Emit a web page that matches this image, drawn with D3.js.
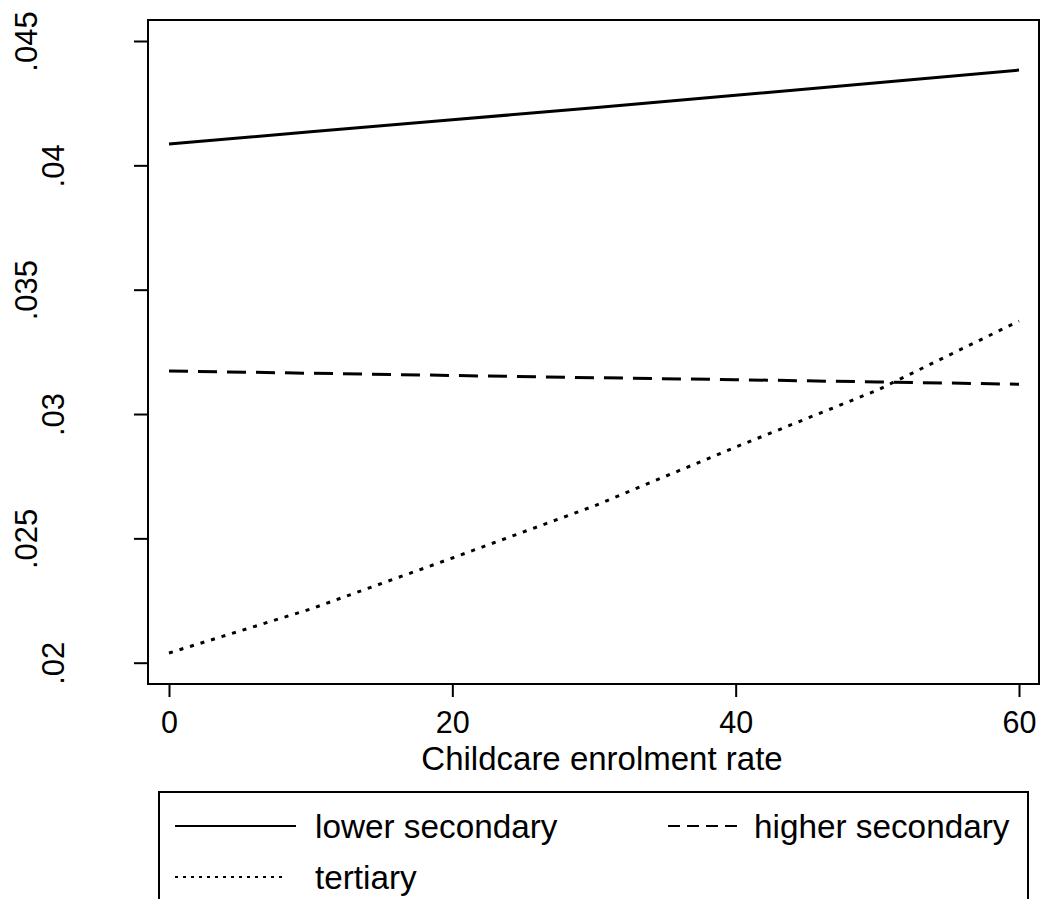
<!DOCTYPE html>
<html><head><meta charset="utf-8">
<script src="https://cdn.jsdelivr.net/npm/d3@7"></script>
<style>body{margin:0;background:#fff}svg{display:block}text{font-family:"Liberation Sans",Arial,sans-serif;fill:#000}</style>
</head><body>
<script>
const xValues = [0, 10, 20, 30, 40, 50, 60];
const lowerSecondary = [0.04086, 0.04135, 0.04183, 0.04232, 0.04282, 0.04332, 0.04383];
const higherSecondary = [0.03173, 0.03164, 0.03155, 0.03146, 0.03138, 0.03129, 0.03120];
const tertiary = [0.02039, 0.02216, 0.02421, 0.02630, 0.02867, 0.03096, 0.03374];
const xTicks = [0, 20, 40, 60];
const yTicks = [0.02, 0.025, 0.03, 0.035, 0.04, 0.045];
const yTickLabels = [".02", ".025", ".03", ".035", ".04", ".045"];
const seriesNames = ["lower secondary", "higher secondary", "tertiary"];
const xTitle = "Childcare enrolment rate";

const W = 1041, H = 899;
const svg = d3.select("body").append("svg").attr("width", W).attr("height", H);
const x = d3.scaleLinear().domain([0, 60]).range([169, 1019]);
const y = d3.scaleLinear().domain([0.02, 0.045]).range([662.7, 41]);
const frame = {l: 148, t: 20, r: 1039, b: 684};

svg.append("rect").attr("x", frame.l).attr("y", frame.t)
  .attr("width", frame.r - frame.l).attr("height", frame.b - frame.t)
  .attr("fill", "none").attr("stroke", "#000").attr("stroke-width", 2);

// y axis
const ya = svg.append("g").attr("transform", `translate(${frame.l},0)`)
  .call(d3.axisLeft(y).tickValues(yTicks).tickSize(14).tickFormat(""));
ya.select(".domain").remove();
ya.selectAll("line").attr("stroke-width", 2);
ya.selectAll(".tick").append("text")
  .attr("transform", (d, i) => `translate(${yTickLabels[i].length > 3 ? -111 : -84},0) rotate(-90)`)
  .attr("text-anchor", "middle").attr("font-size", 31)
  .text((d, i) => yTickLabels[i]);

// x axis
const xa = svg.append("g").attr("transform", `translate(0,${frame.b})`)
  .call(d3.axisBottom(x).tickValues(xTicks).tickSize(13).tickFormat(""));
xa.select(".domain").remove();
xa.selectAll("line").attr("stroke-width", 2);
xa.selectAll(".tick").append("text").attr("y", 49)
  .attr("text-anchor", "middle").attr("font-size", 30.5).text(d => d);

svg.append("text").attr("x", 602).attr("y", 770).attr("text-anchor", "middle")
  .attr("font-size", 33).text(xTitle);

const styles = [
  {dash: null, w: 3},
  {dash: "19,10", w: 3},
  {dash: "4,7", w: 3}
];
const data = [lowerSecondary, higherSecondary, tertiary];
const line = d3.line().x((d, i) => x(xValues[i])).y(d => y(d));
data.forEach((s, k) => {
  svg.append("path").datum(s).attr("d", line).attr("fill", "none")
    .attr("stroke", "#000").attr("stroke-width", styles[k].w)
    .attr("stroke-dasharray", styles[k].dash);
});

// legend
svg.append("rect").attr("x", 159).attr("y", 792).attr("width", 1028 - 159).attr("height", 140)
  .attr("fill", "none").attr("stroke", "#000").attr("stroke-width", 2);
const legItems = [
  {x1: 175, x2: 296, tx: 315, y: 826, dash: null},
  {x1: 668, x2: 740, tx: 754, y: 826, dash: "12,7"},
  {x1: 175, x2: 285, tx: 315, y: 877, dash: "3,5"}
];
legItems.forEach((it, k) => {
  svg.append("line").attr("x1", it.x1).attr("x2", it.x2).attr("y1", it.y).attr("y2", it.y)
    .attr("stroke", "#000").attr("stroke-width", 2).attr("stroke-dasharray", it.dash);
  svg.append("text").attr("x", it.tx).attr("y", it.y + 12).attr("font-size", 33.3)
    .text(seriesNames[k]);
});
</script>
</body></html>
